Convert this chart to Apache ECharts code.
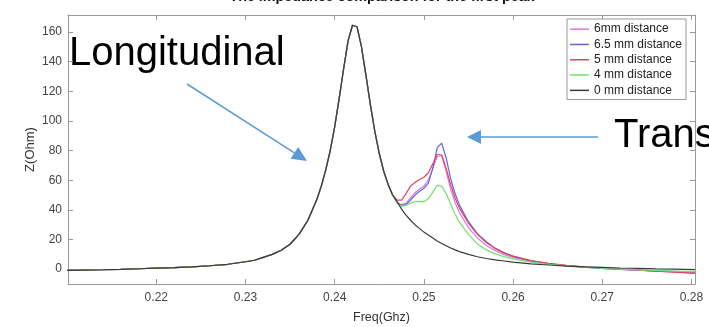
<!DOCTYPE html>
<html><head><meta charset="utf-8">
<script src="https://cdn.jsdelivr.net/npm/echarts@6/dist/echarts.min.js"></script>
<style>html,body{margin:0;padding:0;background:#fff}#c{width:709px;height:327px}</style>
</head><body><div id="c"></div>
<script>
// Frequencies (GHz) where all curves coincide
const freqShared = [0.210,0.212,0.214,0.216,0.218,0.220,0.222,0.224,0.226,0.228,
  0.230,0.231,0.232,0.233,0.234,0.235,0.236,0.237,0.238,0.2385,
  0.239,0.2395,0.240,0.2405,0.241,0.2415,0.242,0.2425,0.243,0.2435,
  0.244,0.2445,0.245,0.2455,0.246,0.2465];
const zShared = [-0.8,-0.6,-0.4,-0.1,0.3,0.7,1.1,1.6,2.3,3.3,
  5.0,6.0,8.0,10.0,12.8,16.8,23.5,33,47,56,
  67,80,96,115,135,154,164.5,163.5,150,131,
  111,93,78,66,57,50];
// Frequencies where the curves separate
const freqTail = [0.247,0.2475,0.248,0.2485,0.249,0.2495,0.250,0.2505,0.251,0.2515,
  0.252,0.2525,0.253,0.2535,0.254,0.255,0.256,0.257,0.258,0.259,
  0.260,0.262,0.264,0.266,0.268,0.270,0.272,0.274,0.276,0.278,0.2804];
const z6mm  = [45,43.5,44.5,48,51.5,54,56,60,68,76,76.5,66,54,45,38,28,21,16,12.5,9.8,7.9,5.2,3.5,2.3,1.3,0.6,-0.1,-0.7,-1.3,-1.8,-2.5];
const z65mm = [45,43,43.5,46.5,50,52.5,54.5,58,68,82,85,75,61,51,43,32,24,18.5,14,11,8.6,5.6,3.7,2.4,1.4,0.6,-0.1,-0.6,-1.1,-1.5,-2];
const z5mm  = [46.5,46.5,51,56,58.5,60.5,62,65,71,77.5,77,68,57,48,41,31,23.5,18,14,11,8.8,5.8,4,2.6,1.5,0.7,0,-0.7,-1.4,-2,-2.8];
const z4mm  = [44.5,42.5,43,44.5,45.5,45.5,45.5,47.5,52,56.5,56,51,44,37,31.5,23.5,17,13,10.3,8.5,6.9,4.7,3.3,2.2,1.3,0.6,0,-0.5,-0.9,-1.3,-1.7];
const z0mm  = [45.5,40.5,36.5,33,30,27.5,25,23,21,19,17.3,15.8,14.3,13,11.8,10,8.4,7.2,6.3,5.5,4.7,3.6,2.8,2.1,1.6,1.2,0.8,0.5,0.2,0,-0.3];
const seriesNames = ['6mm distance','6.5 mm distance','5 mm distance','4 mm distance','0 mm distance'];
const seriesColors = ['#dc78e4','#6464d6','#e4435a','#6ee36e','#3a3a3a'];
const xTicks = [0.22,0.23,0.24,0.25,0.26,0.27,0.28];
const yTicks = [0,20,40,60,80,100,120,140,160];

const FONT = "'Liberation Sans', Arial, Helvetica, sans-serif";
const freq = freqShared.concat(freqTail);
const tails = [z6mm, z65mm, z5mm, z4mm, z0mm];
const X0 = 0.2101, X1 = 0.2804, Y0 = -10, Y1 = 171.4;
const frame = '#9a9a9a';

function axisCommon(){
  return {axisLine:{show:true,onZero:false,lineStyle:{color:frame,width:1}},
          splitLine:{show:false}};
}
const chart = echarts.init(document.getElementById('c'), null, {renderer:'canvas'});
chart.setOption({
  animation:false,
  grid:{left:68,right:14,top:15,bottom:43,containLabel:false,outerBoundsMode:'none'},
  xAxis:[
    Object.assign(axisCommon(),{type:'value',min:X0,max:X1,position:'bottom',
      axisTick:{show:true,inside:true,length:5,customValues:xTicks,lineStyle:{color:frame}},
      axisLabel:{customValues:xTicks,formatter:v=>v.toFixed(2),color:'#444',fontSize:12,fontFamily:FONT,margin:8},
      name:'Freq(Ghz)',nameLocation:'middle',nameGap:27,nameMoveOverlap:false,
      nameTextStyle:{color:'#333',fontSize:12.5,fontFamily:FONT}}),
    Object.assign(axisCommon(),{type:'value',min:X0,max:X1,position:'top',
      axisTick:{show:true,inside:true,length:5,customValues:xTicks,lineStyle:{color:frame}},
      axisLabel:{show:false}})
  ],
  yAxis:[
    Object.assign(axisCommon(),{type:'value',min:Y0,max:Y1,position:'left',
      axisTick:{show:true,inside:true,length:5,customValues:yTicks,lineStyle:{color:frame}},
      axisLabel:{customValues:yTicks,color:'#444',fontSize:12,fontFamily:FONT,margin:6},
      name:'Z(Ohm)',nameLocation:'middle',nameGap:31,nameMoveOverlap:false,
      nameTextStyle:{color:'#333',fontSize:13,fontFamily:FONT}}),
    Object.assign(axisCommon(),{type:'value',min:Y0,max:Y1,position:'right',
      axisTick:{show:true,inside:true,length:5,customValues:yTicks,lineStyle:{color:frame}},
      axisLabel:{show:false}})
  ],
  legend:{left:567,top:19,orient:'vertical',icon:'rect',itemWidth:19,itemHeight:1.5,itemGap:3,
    padding:[4,4,3,3],backgroundColor:'#fff',borderColor:'#999',borderWidth:1,
    textStyle:{fontSize:12,color:'#222',fontFamily:FONT,lineHeight:12.3},
    data:seriesNames},
  series: seriesNames.map((n,i)=>({
    name:n,type:'line',xAxisIndex:0,yAxisIndex:0,showSymbol:false,symbol:'none',
    color:seriesColors[i],lineStyle:{width:1.2,color:seriesColors[i]},
    data:freq.map((f,k)=>[f, k<zShared.length ? zShared[k] : tails[i][k-zShared.length]])
  })),
  graphic:[
    {type:'text',x:382,y:-3,scaleX:1.1,style:{text:'The impedance comparison for the first peak',
      font:"bold 13px "+FONT,fill:'#111',align:'center',verticalAlign:'middle'}},
    {type:'text',x:69,y:54,style:{text:'Longitudinal',
      font:"40px "+FONT,fill:'#000',align:'left',verticalAlign:'middle'}},
    {type:'text',x:614,y:136,style:{text:'Transverse',
      font:"40px "+FONT,fill:'#000',align:'left',verticalAlign:'middle'}},
    {type:'line',shape:{x1:187,y1:84,x2:294.4,y2:152.9},style:{stroke:'#5b9bd5',lineWidth:1.5}},
    {type:'polygon',shape:{points:[[307,161],[298.2,147.0],[290.6,158.8]]},style:{fill:'#5b9bd5'}},
    {type:'line',shape:{x1:480,y1:137,x2:598,y2:137},style:{stroke:'#5b9bd5',lineWidth:1.5}},
    {type:'polygon',shape:{points:[[467,137],[481,130],[481,144]]},style:{fill:'#5b9bd5'}}
  ]
});
</script></body></html>
